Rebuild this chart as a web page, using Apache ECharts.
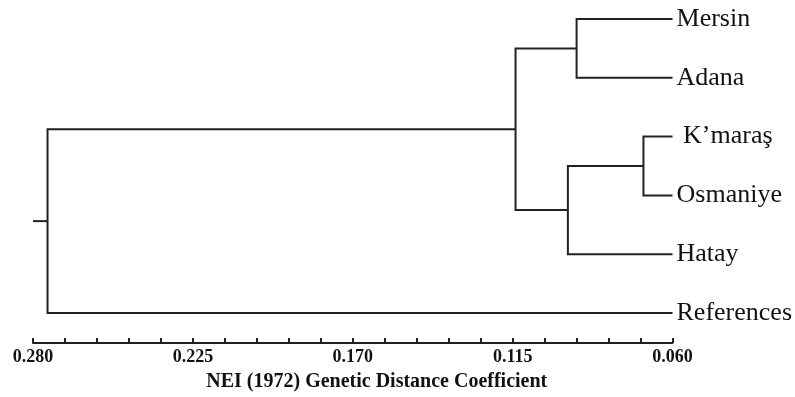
<!DOCTYPE html>
<html><head><meta charset="utf-8">
<script src="https://cdn.jsdelivr.net/npm/echarts@6/dist/echarts.min.js"></script>
<style>html,body{margin:0;padding:0;background:#fff}#c{width:795px;height:397px}</style>
</head><body><div id="c"></div>
<script>
const leaves = ['Mersin', 'Adana', ' K\u2019mara\u015f', 'Osmaniye', 'Hatay', 'References'];
const leafDistance = [0.060, 0.060, 0.060, 0.060, 0.060, 0.060];
// merges: node indices (0-5 leaves, 6+ internal nodes in merge order)
const mergeA = [0, 2, 7, 6, 9];
const mergeB = [1, 3, 4, 8, 5];
const mergeDistance = [0.093, 0.070, 0.096, 0.114, 0.275];
const rootStub = 0.280;
const tickLabels = ['0.060', '0.115', '0.170', '0.225', '0.280'];

const nodeX = leafDistance.slice();
const nodeY = leaves.map((_, i) => i);
const segs = [];
mergeA.forEach((a, k) => {
  const b = mergeB[k], h = mergeDistance[k];
  segs.push({coords: [[nodeX[a], nodeY[a]], [h, nodeY[a]], [h, nodeY[b]], [nodeX[b], nodeY[b]]]});
  nodeX.push(h);
  nodeY.push((nodeY[a] + nodeY[b]) / 2);
});
const root = nodeX.length - 1;
segs.push({coords: [[nodeX[root], nodeY[root]], [rootStub, nodeY[root]]]});

const serif = '"Liberation Serif", "Times New Roman", serif';
const chart = echarts.init(document.getElementById('c'));
chart.setOption({
  animation: false,
  backgroundColor: '#fff',
  grid: {left: 33, right: 122, top: 19, bottom: 83},
  xAxis: {
    type: 'value', inverse: true, min: 0.06, max: 0.28, interval: 0.055,
    position: 'bottom', offset: 30,
    axisLine: {show: true, onZero: false, lineStyle: {color: '#222', width: 2}},
    axisTick: {show: true, inside: true, length: 5, lineStyle: {color: '#222', width: 2}},
    minorTick: {show: true, splitNumber: 5, length: 5, lineStyle: {color: '#222', width: 2}},
    splitLine: {show: false},
    axisLabel: {
      margin: 5, color: '#111', fontFamily: serif, fontWeight: 'bold', fontSize: 18,
      formatter: v => tickLabels.find(t => Math.abs(parseFloat(t) - v) < 1e-6) || ''
    },
    name: 'NEI (1972) Genetic Distance Coefficient',
    nameLocation: 'middle', nameGap: 29,
    nameTextStyle: {color: '#111', fontFamily: serif, fontWeight: 'bold', fontSize: 20, padding: [0, 0, 0, 48]}
  },
  yAxis: [
    {type: 'value', inverse: true, min: 0, max: 5, show: false},
    {
      type: 'category', data: leaves, inverse: true, boundaryGap: false, position: 'right',
      axisLine: {show: false}, axisTick: {show: false}, splitLine: {show: false},
      axisLabel: {margin: 4, color: '#111', fontFamily: serif, fontSize: 26}
    }
  ],
  series: [{
    type: 'lines', coordinateSystem: 'cartesian2d', polyline: true, xAxisIndex: 0, yAxisIndex: 0,
    clip: false, silent: true,
    lineStyle: {color: '#222', width: 2, opacity: 1},
    data: segs
  }]
});
</script></body></html>
